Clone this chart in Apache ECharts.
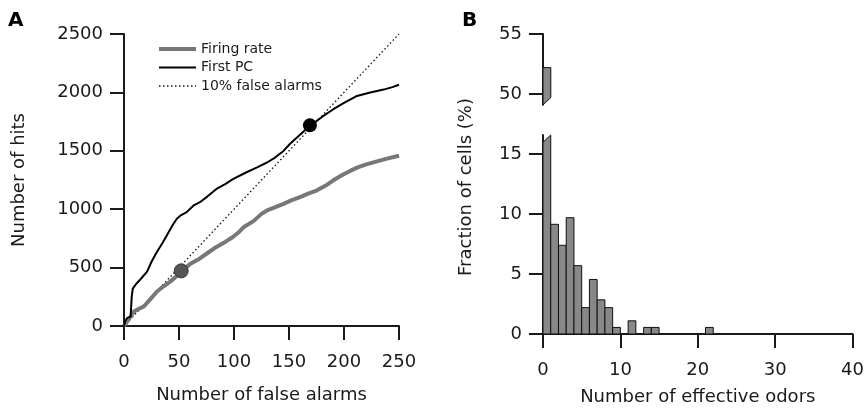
<!DOCTYPE html>
<html lang="en">
<head>
    <meta charset="UTF-8">
    <title>Hits vs false alarms / effective odors</title>
    <script src="https://cdn.jsdelivr.net/npm/echarts@6/dist/echarts.min.js"></script>
</head>
<body style="margin:0;background:#fff">
<div id="chart" style="width:867px;height:409px"></div>
<script>
    // panel A: cumulative hits against false alarms
    var firingRate = [
        [0, 0], [3, 40], [6, 80], [9, 125], [13, 145], [18, 167], [24, 230], [30, 295],
        [36, 340], [42, 380], [47, 420], [52, 470], [60, 530], [69, 578], [76, 625],
        [84, 677], [92, 720], [99, 762], [104, 800], [109, 848], [118, 900], [125, 960],
        [130, 989], [137, 1015], [145, 1046], [152, 1075], [160, 1103], [168, 1135],
        [175, 1160], [183, 1200], [190, 1245], [198, 1290], [206, 1330], [213, 1360],
        [221, 1386], [230, 1410], [240, 1435], [250, 1457]
    ];
    var firstPC = [
        [0, 0], [1, 40], [3, 70], [6, 80], [7, 250], [8, 320], [11, 360], [15, 400],
        [21, 465], [25, 550], [30, 635], [35, 710], [39, 776], [44, 860], [48, 918],
        [52, 950], [57, 975], [63, 1030], [69, 1060], [76, 1110], [84, 1173], [92, 1215],
        [99, 1258], [110, 1310], [121, 1358], [130, 1400], [137, 1440], [145, 1499],
        [151, 1560], [158, 1620], [165, 1680], [170, 1720], [180, 1790], [190, 1854],
        [200, 1910], [211, 1967], [222, 1995], [236, 2024], [244, 2045], [250, 2066]
    ];
    var falseAlarmLine = [[0, 0], [250, 2500]];
    var firingPoint = [[52, 472]];
    var pcPoint = [[169, 1718]];
    var hitTicks = [0, 500, 1000, 1500, 2000, 2500];

    // panel B: histogram of effective odors
    var odorBins = [0, 1, 2, 3, 4, 5, 6, 7, 8, 9, 10, 11, 12, 13, 14, 15, 16, 17, 18, 19, 20, 21];
    var cellFraction = [52.2, 9.15, 7.4, 9.7, 5.7, 2.2, 4.55, 2.85, 2.2, 0.55, 0, 1.1, 0,
                        0.55, 0.55, 0, 0, 0, 0, 0, 0, 0.55];
    var lowTicks = [0, 5, 10, 15];
    var highTicks = [50, 55];

    var LOW_MAX = 16.6, HIGH_MIN = 49.1, SLANT = 0.6;
    var FONT = 'DejaVu Sans';
    var INK = '#1a1a1a';

    var histData = odorBins.map(function (b, i) { return [b, cellFraction[i]]; });

    function barLow(params, api) {
        var x = api.value(0), v = api.value(1);
        if (!v) return null;
        var pts;
        if (v > LOW_MAX) {
            pts = [api.coord([x, 0]), api.coord([x + 1, 0]),
                   api.coord([x + 1, LOW_MAX]), api.coord([x, LOW_MAX - SLANT])];
        } else {
            pts = [api.coord([x, 0]), api.coord([x + 1, 0]),
                   api.coord([x + 1, v]), api.coord([x, v])];
        }
        return { type: 'polygon', shape: { points: pts },
                 style: { fill: '#888', stroke: '#111', lineWidth: 1 } };
    }
    function barHigh(params, api) {
        var x = api.value(0), v = api.value(1);
        if (v <= HIGH_MIN) return null;
        var pts = [api.coord([x, HIGH_MIN]), api.coord([x + 1, HIGH_MIN + SLANT]),
                   api.coord([x + 1, v]), api.coord([x, v])];
        return { type: 'polygon', shape: { points: pts },
                 style: { fill: '#888', stroke: '#111', lineWidth: 1 } };
    }

    function plain(v) { return String(v); }

    function axisBase(extra) {
        var a = {
            axisLine: { show: true, lineStyle: { color: INK, width: 2 } },
            axisTick: { show: true, inside: false, length: 14, lineStyle: { color: INK, width: 2 } },
            axisLabel: { color: INK, fontFamily: FONT, fontSize: 18, formatter: plain },
            splitLine: { show: false },
            nameTextStyle: { color: INK, fontFamily: FONT, fontSize: 18 }
        };
        for (var k in extra) {
            if (typeof extra[k] === 'object' && a[k] && !Array.isArray(extra[k])) {
                for (var j in extra[k]) a[k][j] = extra[k][j];
            } else {
                a[k] = extra[k];
            }
        }
        return a;
    }

    var chart = echarts.init(document.getElementById('chart'));
    chart.setOption({
        animation: false,
        textStyle: { fontFamily: FONT },
        title: [
            { text: 'A', left: 3, top: 6, textStyle: { fontFamily: FONT, fontSize: 20, fontWeight: 'bold', color: '#000' } },
            { text: 'B', left: 457, top: 6, textStyle: { fontFamily: FONT, fontSize: 20, fontWeight: 'bold', color: '#000' } }
        ],
        legend: {
            orient: 'vertical',
            left: 152, top: 37,
            itemWidth: 37, itemHeight: 14, itemGap: 4.5,
            itemStyle: { opacity: 0 },
            data: [
                { name: 'Firing rate', lineStyle: { color: '#777', width: 4 } },
                { name: 'First PC', lineStyle: { color: '#000', width: 2 } },
                { name: '10% false alarms', lineStyle: { color: '#111', width: 1.3, type: [1.5, 2.5] } }
            ],
            textStyle: { fontFamily: FONT, fontSize: 14, color: INK }
        },
        grid: [
            { left: 124, top: 34, width: 275, height: 294 },
            { left: 543, top: 34, width: 312, height: 70.8 },
            { left: 543, top: 135, width: 312, height: 199 }
        ],
        xAxis: [
            axisBase({ type: 'value', gridIndex: 0, min: 0, max: 250, interval: 50,
                name: 'Number of false alarms', nameLocation: 'middle', nameGap: 60,
                axisLabel: { margin: 27 } }),
            axisBase({ type: 'value', gridIndex: 1, min: 0, max: 40, show: false }),
            axisBase({ type: 'value', gridIndex: 2, min: 0, max: 40, interval: 10,
                name: 'Number of effective odors', nameLocation: 'middle', nameGap: 54,
                axisLabel: { margin: 27 } })
        ],
        yAxis: [
            axisBase({ type: 'value', gridIndex: 0, min: 0, max: 2500, interval: 500,
                name: 'Number of hits', nameLocation: 'middle', nameGap: 96,
                axisLabel: { margin: 21, customValues: hitTicks },
                axisTick: { customValues: hitTicks } }),
            axisBase({ type: 'value', gridIndex: 1, min: HIGH_MIN, max: 55,
                axisLabel: { margin: 21, customValues: highTicks },
                axisTick: { customValues: highTicks } }),
            axisBase({ type: 'value', gridIndex: 2, min: 0, max: LOW_MAX,
                axisLabel: { margin: 21, customValues: lowTicks },
                axisTick: { customValues: lowTicks } })
        ],
        graphic: [{
            type: 'text', x: 466, y: 187, rotation: Math.PI / 2,
            style: { text: 'Fraction of cells (%)', fontFamily: FONT, fontSize: 18,
                     fill: INK, align: 'center', verticalAlign: 'middle' }
        }],
        series: [
            { name: '10% false alarms', type: 'line', xAxisIndex: 0, yAxisIndex: 0,
              data: falseAlarmLine, symbol: 'none', itemStyle: { color: '#111' },
              lineStyle: { color: '#111', width: 1.3, type: [1.5, 2.5] } },
            { name: 'Firing rate', type: 'line', xAxisIndex: 0, yAxisIndex: 0,
              data: firingRate, symbol: 'none', itemStyle: { color: '#777' },
              lineStyle: { color: '#777', width: 4 } },
            { name: 'First PC', type: 'line', xAxisIndex: 0, yAxisIndex: 0,
              data: firstPC, symbol: 'none', itemStyle: { color: '#000' },
              lineStyle: { color: '#000', width: 2 } },
            { type: 'scatter', xAxisIndex: 0, yAxisIndex: 0, data: firingPoint, z: 5,
              symbolSize: 14, itemStyle: { color: '#555', borderColor: '#333', borderWidth: 1, opacity: 1 } },
            { type: 'scatter', xAxisIndex: 0, yAxisIndex: 0, data: pcPoint, z: 5,
              symbolSize: 14, itemStyle: { color: '#000', opacity: 1 } },
            { type: 'custom', xAxisIndex: 1, yAxisIndex: 1, data: histData,
              renderItem: barHigh, encode: { x: 0, y: 1 } },
            { type: 'custom', xAxisIndex: 2, yAxisIndex: 2, data: histData,
              renderItem: barLow, encode: { x: 0, y: 1 } }
        ]
    });
</script>
</body>
</html>
